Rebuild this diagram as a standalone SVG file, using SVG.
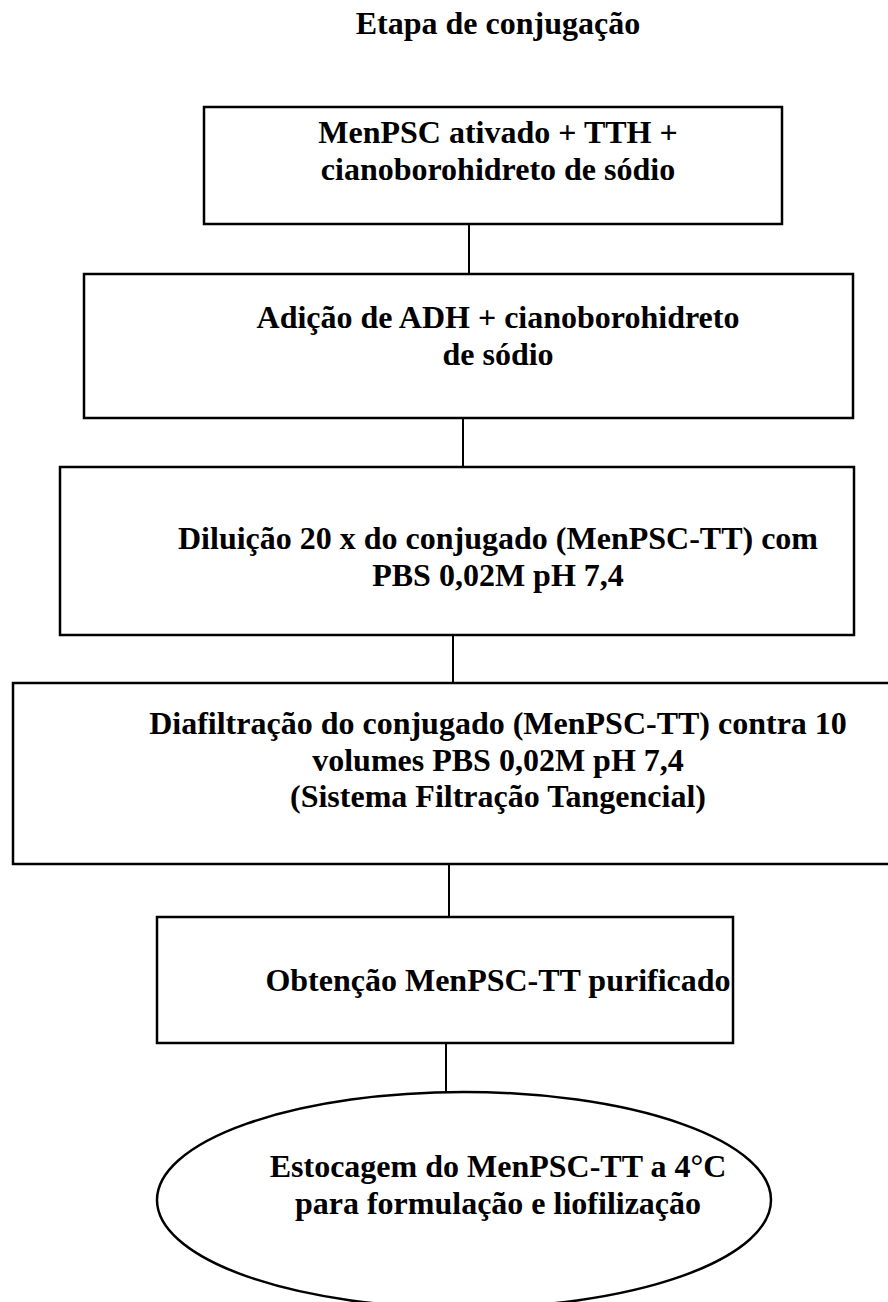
<svg xmlns="http://www.w3.org/2000/svg" width="888" height="1302" viewBox="0 0 888 1302">
<style>
  .node { fill: #ffffff; stroke: #000000; stroke-width: 2.5; }
  .conn { stroke: #000000; stroke-width: 2; fill: none; }
  text { font-family: "Liberation Serif", "Times New Roman", serif; font-weight: bold; font-size: 32px; fill: #000000; text-anchor: middle; }
</style>
<rect x="0" y="0" width="888" height="1302" fill="#ffffff"/>
<g id="title">
  <text x="498" y="34">Etapa de conjugação</text>
</g>
<g id="connectors">
  <line class="conn" x1="469" y1="224" x2="469" y2="274"/>
  <line class="conn" x1="463" y1="418" x2="463" y2="467"/>
  <line class="conn" x1="453" y1="635" x2="453" y2="683"/>
  <line class="conn" x1="449" y1="864" x2="449" y2="917"/>
  <line class="conn" x1="446" y1="1043" x2="446" y2="1092"/>
</g>
<g id="node1">
  <rect class="node" x="204" y="107" width="578" height="117"/>
  <text x="498" y="143">MenPSC ativado + TTH +</text>
  <text x="498" y="180">cianoborohidreto de sódio</text>
</g>
<g id="node2">
  <rect class="node" x="84" y="274" width="769" height="144"/>
  <text x="498" y="328">Adição de ADH + cianoborohidreto</text>
  <text x="498" y="365">de sódio</text>
</g>
<g id="node3">
  <rect class="node" x="60" y="467" width="794" height="168"/>
  <text x="498" y="549">Diluição 20 x do conjugado (MenPSC-TT) com</text>
  <text x="498" y="586">PBS 0,02M pH 7,4</text>
</g>
<g id="node4">
  <rect class="node" x="13" y="683" width="880" height="181"/>
  <text x="498" y="734">Diafiltração do conjugado (MenPSC-TT) contra 10</text>
  <text x="498" y="771">volumes PBS 0,02M pH 7,4</text>
  <text x="498" y="807">(Sistema Filtração Tangencial)</text>
</g>
<g id="node5">
  <rect class="node" x="157" y="917" width="576" height="126"/>
  <text x="498" y="991">Obtenção MenPSC-TT purificado</text>
</g>
<g id="node6">
  <ellipse class="node" cx="464" cy="1200" rx="307" ry="108"/>
  <text x="498" y="1177">Estocagem do MenPSC-TT a 4°C</text>
  <text x="498" y="1214">para formulação e liofilização</text>
</g>
</svg>
